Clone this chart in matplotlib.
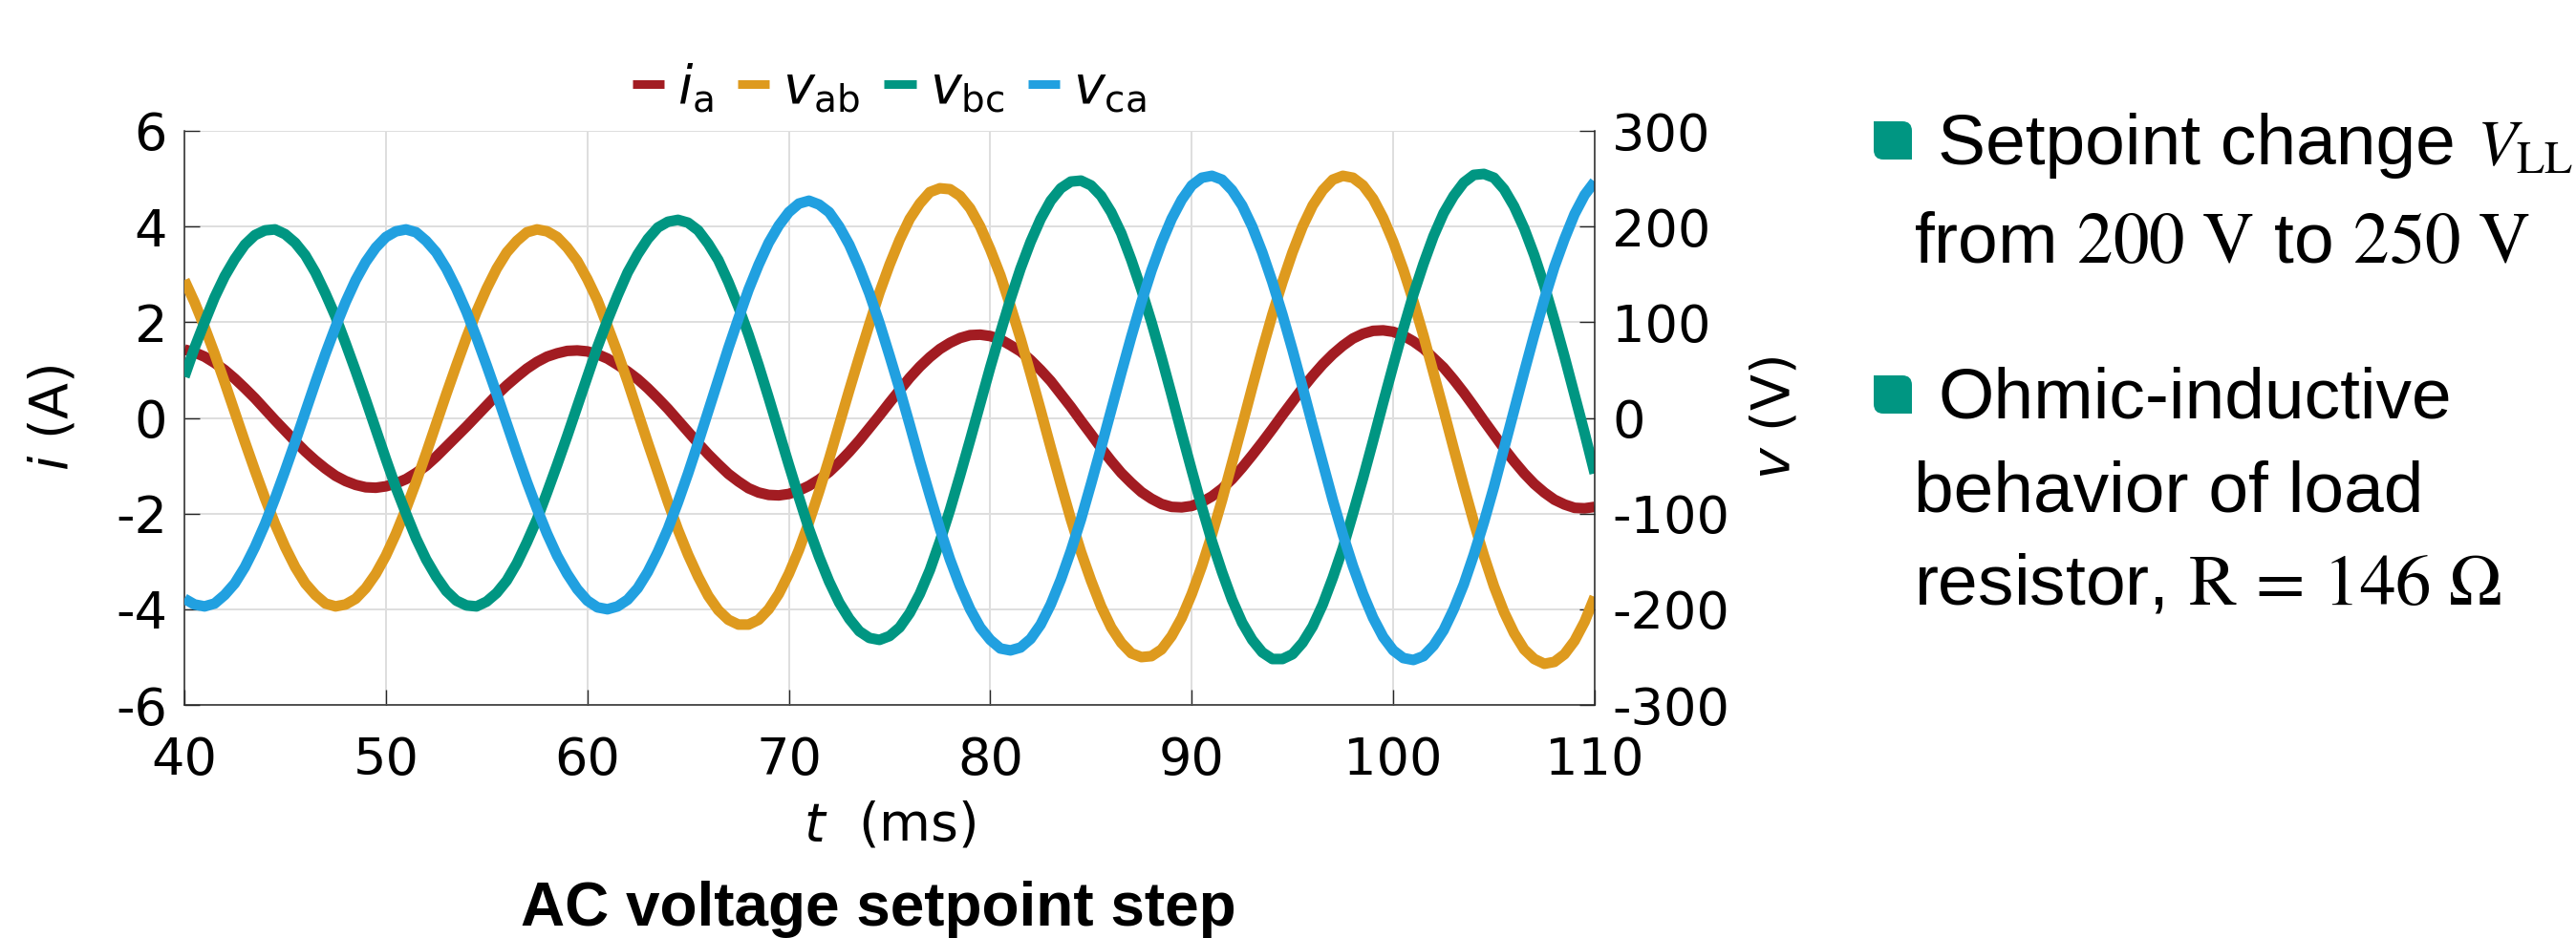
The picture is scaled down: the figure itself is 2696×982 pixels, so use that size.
import matplotlib
matplotlib.use("Agg")
import matplotlib.pyplot as plt
from matplotlib.path import Path
from matplotlib.patches import PathPatch

# ---------------- data (0.5 ms samples) ----------------
time_ms = [40, 40.5, 41, 41.5, 42, 42.5, 43, 43.5, 44, 44.5,
           45, 45.5, 46, 46.5, 47, 47.5, 48, 48.5, 49, 49.5,
           50, 50.5, 51, 51.5, 52, 52.5, 53, 53.5, 54, 54.5,
           55, 55.5, 56, 56.5, 57, 57.5, 58, 58.5, 59, 59.5,
           60, 60.5, 61, 61.5, 62, 62.5, 63, 63.5, 64, 64.5,
           65, 65.5, 66, 66.5, 67, 67.5, 68, 68.5, 69, 69.5,
           70, 70.5, 71, 71.5, 72, 72.5, 73, 73.5, 74, 74.5,
           75, 75.5, 76, 76.5, 77, 77.5, 78, 78.5, 79, 79.5,
           80, 80.5, 81, 81.5, 82, 82.5, 83, 83.5, 84, 84.5,
           85, 85.5, 86, 86.5, 87, 87.5, 88, 88.5, 89, 89.5,
           90, 90.5, 91, 91.5, 92, 92.5, 93, 93.5, 94, 94.5,
           95, 95.5, 96, 96.5, 97, 97.5, 98, 98.5, 99, 99.5,
           100, 100.5, 101, 101.5, 102, 102.5, 103, 103.5, 104, 104.5,
           105, 105.5, 106, 106.5, 107, 107.5, 108, 108.5, 109, 109.5,
           110]

i_a = [1.43, 1.37, 1.28, 1.15, 1.00, 0.82, 0.62, 0.41, 0.18, -0.05,
       -0.27, -0.49, -0.70, -0.89, -1.06, -1.21, -1.32, -1.40, -1.45, -1.46,
       -1.43, -1.37, -1.28, -1.15, -1.00, -0.81, -0.60, -0.39, -0.18, 0.04,
       0.26, 0.48, 0.68, 0.86, 1.03, 1.17, 1.28, 1.35, 1.40, 1.41,
       1.39, 1.33, 1.24, 1.11, 0.97, 0.81, 0.62, 0.41, 0.19, -0.05,
       -0.29, -0.53, -0.76, -0.97, -1.17, -1.33, -1.47, -1.56, -1.61, -1.62,
       -1.59, -1.52, -1.42, -1.29, -1.13, -0.93, -0.71, -0.47, -0.21, 0.05,
       0.32, 0.58, 0.84, 1.07, 1.27, 1.44, 1.57, 1.67, 1.73, 1.74,
       1.71, 1.64, 1.52, 1.39, 1.21, 1.00, 0.77, 0.50, 0.23, -0.06,
       -0.34, -0.63, -0.90, -1.15, -1.36, -1.55, -1.69, -1.80, -1.86, -1.87,
       -1.84, -1.76, -1.64, -1.48, -1.28, -1.04, -0.78, -0.51, -0.23, 0.06,
       0.34, 0.62, 0.88, 1.12, 1.33, 1.51, 1.66, 1.76, 1.82, 1.83,
       1.80, 1.72, 1.60, 1.45, 1.25, 1.05, 0.80, 0.53, 0.24, -0.06,
       -0.35, -0.64, -0.91, -1.16, -1.38, -1.56, -1.71, -1.81, -1.88, -1.89,
       -1.86]

v_ab = [144, 121, 95, 67, 37, 6, -25, -55, -84, -111,
        -135, -156, -173, -185, -194, -197, -195, -189, -178, -163,
        -144, -121, -95, -67, -37, -6, 25, 55, 84, 111,
        135, 156, 173, 185, 194, 197, 195, 189, 178, 164,
        145, 123, 96, 68, 38, 6, -26, -57, -88, -117,
        -143, -166, -186, -201, -211, -216, -216, -211, -200, -184,
        -163, -138, -109, -77, -43, -7, 29, 64, 98, 131,
        160, 186, 208, 224, 236, 240, 239, 232, 219, 200,
        176, 149, 117, 83, 46, 8, -31, -69, -106, -140,
        -170, -197, -219, -235, -246, -250, -249, -242, -228, -209,
        -184, -155, -122, -86, -47, -8, 32, 71, 108, 142,
        173, 200, 222, 238, 249, 253, 251, 243, 229, 209,
        184, 155, 122, 86, 47, 8, -32, -71, -109, -144,
        -176, -203, -225, -242, -252, -257, -255, -247, -233, -213,
        -187]

v_bc = [43, 73, 100, 126, 148, 166, 181, 191, 196, 197,
        192, 183, 170, 152, 130, 106, 78, 49, 19, -12,
        -43, -73, -100, -126, -148, -166, -181, -191, -196, -197,
        -192, -183, -170, -152, -130, -106, -78, -49, -19, 12,
        43, 74, 102, 128, 152, 171, 187, 199, 205, 207,
        204, 196, 182, 165, 142, 116, 87, 55, 21, -14,
        -49, -83, -116, -145, -171, -193, -210, -223, -230, -232,
        -228, -219, -204, -184, -159, -129, -96, -60, -23, 15,
        53, 89, 124, 156, 184, 208, 227, 240, 247, 248,
        243, 232, 215, 193, 165, 134, 100, 63, 24, -16,
        -55, -93, -129, -161, -190, -214, -232, -245, -252, -252,
        -247, -235, -218, -195, -167, -136, -100, -63, -24, 16,
        55, 93, 129, 161, 190, 214, 232, 246, 254, 255,
        251, 239, 221, 198, 170, 138, 102, 64, 24, -16,
        -58]

v_ca = [-189, -195, -197, -194, -185, -173, -156, -135, -111, -84,
        -55, -25, 6, 37, 67, 95, 121, 144, 163, 178,
        189, 195, 197, 194, 185, 173, 156, 135, 111, 84,
        55, 25, -6, -37, -67, -95, -121, -144, -163, -179,
        -191, -198, -200, -197, -190, -178, -161, -140, -116, -88,
        -58, -26, 7, 40, 73, 104, 134, 160, 183, 201,
        215, 224, 227, 223, 215, 200, 181, 157, 130, 99,
        65, 30, -7, -45, -81, -116, -148, -176, -200, -219,
        -232, -241, -243, -240, -231, -216, -195, -169, -139, -106,
        -69, -31, 8, 47, 85, 121, 154, 183, 208, 228,
        243, 251, 253, 249, 238, 222, 200, 173, 142, 108,
        71, 32, -8, -47, -86, -122, -155, -184, -209, -229,
        -243, -251, -253, -249, -238, -222, -200, -174, -143, -109,
        -72, -32, 8, 48, 87, 124, 158, 187, 213, 233,
        247]

t_ticks = [40, 50, 60, 70, 80, 90, 100, 110]
i_ticks = [-6, -4, -2, 0, 2, 4, 6]
v_ticks = [-300, -200, -100, 0, 100, 200, 300]

series_labels = [r"$i_{\mathrm{a}}$", r"$v_{\mathrm{ab}}$",
                 r"$v_{\mathrm{bc}}$", r"$v_{\mathrm{ca}}$"]
title_text = "AC voltage setpoint step"
note_lines = ["Setpoint change",
              "from $200\\ \\mathrm{V}$ to $250\\ \\mathrm{V}$",
              "Ohmic-inductive",
              "behavior of load",
              "resistor, $\\mathrm{R}\\,=\\,146\\ \\Omega$"]
note_symbol = "$V_{\\mathrm{LL}}$"

# ---------------- style ----------------
RED = "#A21C22"
ORANGE = "#DE9A1E"
TEAL = "#009682"
BLUE = "#21A0E0"
DARK = "#262626"
GRID = "#DEDEDE"

plt.rcParams["font.family"] = ["DejaVu Sans"]
plt.rcParams["axes.unicode_minus"] = False
plt.rcParams["mathtext.fontset"] = "dejavusans"

W, H = 2696, 982
fig = plt.figure(figsize=(W / 100, H / 100), dpi=100)
fig.patch.set_facecolor("white")

L, R, T, B = 193, 1669, 137, 738
ax = fig.add_axes([L / W, 1 - B / H, (R - L) / W, (B - T) / H])
ax2 = ax.twinx()

LW = 8.0
kw = dict(lw=LW, solid_joinstyle="round", solid_capstyle="butt")
h1, = ax.plot(time_ms, i_a, color=RED, **kw)
h2, = ax2.plot(time_ms, v_ab, color=ORANGE, **kw)
h3, = ax2.plot(time_ms, v_bc, color=TEAL, **kw)
h4, = ax2.plot(time_ms, v_ca, color=BLUE, **kw)

ax.set_xlim(t_ticks[0], t_ticks[-1])
ax.set_ylim(i_ticks[0], i_ticks[-1])
ax2.set_ylim(v_ticks[0], v_ticks[-1])
ax.set_xticks(t_ticks)
ax.set_yticks(i_ticks)
ax2.set_yticks(v_ticks)
ax.set_xticklabels([str(v) for v in t_ticks])
ax.set_yticklabels([str(v) for v in i_ticks])
ax2.set_yticklabels([str(v) for v in v_ticks])

ax.grid(True, color=GRID, lw=1.4)
ax.set_axisbelow(True)

for a in (ax, ax2):
    a.spines["top"].set_visible(False)
ax.spines["right"].set_visible(False)
ax2.spines["left"].set_visible(False)
ax2.spines["bottom"].set_visible(False)
for s in ("left", "bottom"):
    ax.spines[s].set_color(DARK)
    ax.spines[s].set_linewidth(1.1)
ax2.spines["right"].set_color(DARK)
ax2.spines["right"].set_linewidth(1.1)

TICKFS = 39
ax.tick_params(axis="both", direction="in", length=11.5, width=1.0,
               color=DARK, labelcolor="black", labelsize=TICKFS,
               top=False, right=False)
ax.tick_params(axis="x", pad=23)
ax.tick_params(axis="y", pad=13)
ax2.tick_params(axis="y", direction="in", length=11.5, width=1.0,
                color=DARK, labelcolor="black", labelsize=TICKFS, pad=13)

LABFS = 40
ax.set_xlabel(r"$t$  (ms)", fontsize=LABFS)
ax.xaxis.set_label_coords(0.5, -0.211)
ax.xaxis.label.set_va("center")
ax.set_ylabel(r"$i$ (A)", fontsize=LABFS)
ax.yaxis.set_label_coords(-0.093, 0.5)
ax.yaxis.label.set_va("center")
ax.yaxis.label.set_ha("center")
ax2.set_ylabel(r"$v$ (V)", fontsize=LABFS)
ax2.yaxis.set_label_coords(1.128, 0.5)
ax2.yaxis.label.set_va("center")
ax2.yaxis.label.set_ha("center")
ax2.yaxis.label.set_rotation(90)

leg = ax2.legend([h1, h2, h3, h4], series_labels, loc="center",
                 bbox_to_anchor=(0.5, 1.075), ncol=4, frameon=False,
                 fontsize=40, handlelength=0.6, handletextpad=0.25,
                 columnspacing=0.45, borderaxespad=0, borderpad=0)
for ln in leg.get_lines():
    ln.set_linewidth(6.5)

# title below the plot
fig.text(919 / W, 1 - 969 / H, title_text, fontsize=46, fontweight="bold",
         family=["Liberation Sans", "DejaVu Sans"], ha="center", va="baseline")


# bullets on the right
def bullet(x0, y0, size, r):
    x1, y1 = x0 + size, y0 + size
    pts = [(x0, y0), (x1 - r, y0), (x1, y0), (x1, y0 + r), (x1, y1),
           (x0 + r, y1), (x0, y1), (x0, y1 - r), (x0, y0), (x0, y0)]
    codes = [Path.MOVETO, Path.LINETO, Path.CURVE3, Path.CURVE3, Path.LINETO,
             Path.LINETO, Path.CURVE3, Path.CURVE3, Path.LINETO, Path.CLOSEPOLY]
    verts = [(px / W, 1 - py / H) for px, py in pts]
    patch = PathPatch(Path(verts, codes), facecolor=TEAL, edgecolor="none",
                      transform=fig.transFigure)
    fig.add_artist(patch)


NOTEFS = 54
baselines = [172, 275, 438, 536, 633]
xstarts = [2028, 2003, 2028, 2003, 2003]
for txt, yb, xs in zip(note_lines, baselines, xstarts):
    fig.text(xs / W, 1 - yb / H, txt, fontsize=NOTEFS,
             family=["Liberation Sans", "DejaVu Sans"], math_fontfamily="stix",
             ha="left", va="baseline", color="black")
fig.text(2693 / W, 1 - baselines[0] / H, note_symbol, fontsize=49,
         math_fontfamily="stix", ha="right", va="baseline", color="black")
bullet(1961, baselines[0] - 45, 40, 10)
bullet(1961, baselines[2] - 45, 40, 10)

fig.savefig("out.png", dpi=100, facecolor="white")
